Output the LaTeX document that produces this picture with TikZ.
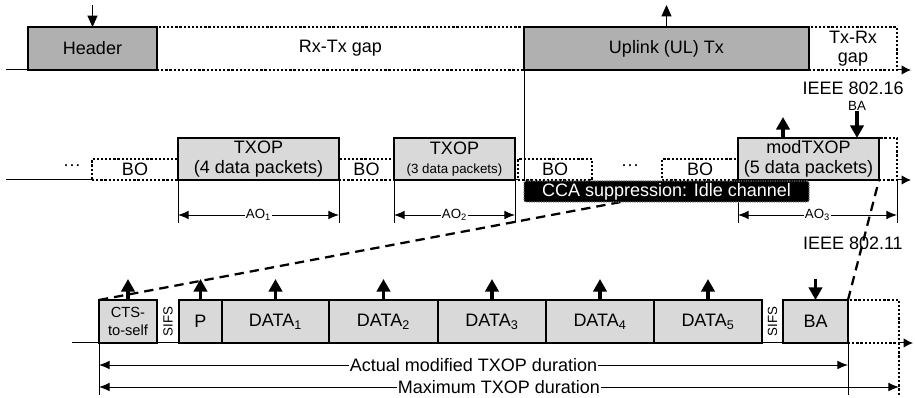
\documentclass[tikz,border=0pt]{standalone}
\usepackage{fontspec}
\setmainfont{Liberation Sans}
\usetikzlibrary{arrows.meta}
\newcommand\mainf{\fontsize{13.5}{14.5}\selectfont}
\newcommand\smallf{\fontsize{10}{12}\selectfont}
\newcommand\ctsf{\fontsize{11}{13.2}\selectfont}
\newcommand\bx[7]{\node[#1, minimum width={(#4-#3)*0.75pt}, minimum height={(#6-#5)*0.75pt}] (#2) at (#3,#6) {#7};}
\begin{document}
\begin{tikzpicture}[x=0.75pt,y=-0.75pt,
  box/.style={draw, line width=0.9pt, inner sep=0pt, outer sep=0pt, anchor=south west, align=center, font=\mainf},
  dark/.style={box, fill=black!31},
  light/.style={box, fill=black!15},
  gapb/.style={box, fill=white, dash pattern=on 1.7pt off 1.4pt, line width=1.9pt},
  dotline/.style={dash pattern=on 1.7pt off 1.4pt, line width=1.9pt},
  axis/.style={line width=0.75pt},
  axarrow/.style={line width=0.75pt, -{Latex[length=7pt,width=7pt]}},
  thinarrow/.style={line width=0.8pt, -{Triangle[length=8.5pt,width=7.5pt]}},
  thickarrow/.style={line width=2.4pt, -{Triangle[length=9.5pt,width=10pt]}},
  dim/.style={line width=0.7pt, {Latex[length=8pt,width=6.5pt]}-{Latex[length=8pt,width=6.5pt]}},
  dimlab/.style={fill=white, inner sep=1pt, font=\smallf},
  durlab/.style={fill=white, inner sep=1pt, font=\mainf},
  vline/.style={line width=0.7pt},
  dashline/.style={line width=1.7pt, dash pattern=on 7pt off 4.5pt},
  cca/.style={anchor=south west, inner sep=0pt, outer sep=0pt, fill=black, draw=black!55, dash pattern=on 0.8pt off 1pt, line width=0.8pt, rounded corners=1.5pt, text=white, font=\mainf}
]
\useasboundingbox (0,0) rectangle (915,398);

% ---------------- top row (IEEE 802.16)
\bx{gapb}{rxtx}{157}{524}{27}{70}{Rx-Tx gap}
\bx{gapb}{txrx}{809}{897}{27}{70}{Tx-Rx\\gap}
\bx{dark}{hdr}{28}{157}{27}{70}{Header}
\bx{dark}{ul}{524}{809}{27}{70}{Uplink (UL) Tx}
\coordinate (a0) at (6,70);
\coordinate (a1) at (911,70);
\draw[axis] (a0) -- (hdr.south west);
\draw[axarrow] (txrx.south east) -- (a1);
\coordinate (t1) at (92.5,5);
\coordinate (t2) at (666.5,5);
\draw[thinarrow] (t1) -- (hdr.north);
\draw[thinarrow] (ul.north) -- (t2);
\node[anchor=east, font=\mainf, inner sep=0pt] (ieee16) at (904,88) {IEEE 802.16};

% ---------------- middle row
\bx{gapb}{bo1}{92}{178}{159}{180}{BO}
\bx{gapb}{bo2}{339}{394}{159}{180}{BO}
\bx{gapb}{bo3}{518}{592}{159}{180}{BO}
\bx{gapb}{bo4}{662}{738}{159}{180}{BO}
\bx{gapb}{ext}{879}{897}{138}{180}{}
\bx{light}{tx1}{178}{339}{138}{180}{TXOP\\(4 data packets)}
\bx{light}{tx2}{394}{515}{138}{180}{TXOP\\{\smallf (3 data packets)}}
\bx{light}{mod}{738}{879}{138}{180}{modTXOP\\(5 data packets)}
\node[font=\mainf] (dots1) at (72,168) {···};
\node[font=\mainf] (dots2) at (630,168) {···};
\coordinate (m0) at (6,180);
\coordinate (m1) at (911,180);
\draw[axis] (m0) -- (bo1.south west);
\draw[axis] (tx2.south east) -- (bo3.south west);
\draw[axarrow] (ext.south east) -- (m1);

\coordinate (mu1) at (783,117);
\coordinate (mu0) at (783,138);
\draw[thickarrow] (mu0) -- (mu1);
\node[font=\smallf, inner sep=0pt] (balab) at (857,106) {BA};
\coordinate (ba0) at (857,138);
\draw[thickarrow] (balab.south) -- (ba0);

% AO dimension lines
\coordinate (v1) at (178,223); \coordinate (v2) at (339,223);
\coordinate (v3) at (394,223); \coordinate (v4) at (515,223);
\coordinate (v5) at (738,223); \coordinate (v6) at (897,223);
\draw[vline] (tx1.south west) -- (v1);
\draw[vline] (tx1.south east) -- (v2);
\draw[vline] (tx2.south west) -- (v3);
\draw[vline] (tx2.south east) -- (v4);
\draw[vline] (mod.south west) -- (v5);
\draw[vline] (ext.south east) -- (v6);
\coordinate (ao1a) at (178,215); \coordinate (ao1b) at (339,215);
\coordinate (ao2a) at (394,215); \coordinate (ao2b) at (515,215);
\coordinate (ao3a) at (738,215); \coordinate (ao3b) at (897,215);
\draw[dim] (ao1a) -- node[dimlab] {AO\textsubscript{1}} (ao1b);
\draw[dim] (ao2a) -- node[dimlab] {AO\textsubscript{2}} (ao2b);
\draw[dim] (ao3a) -- node[dimlab] {AO\textsubscript{3}} (ao3b);

\node[anchor=east, font=\mainf, inner sep=0pt] (ieee11) at (903,243) {IEEE 802.11};

% ---------------- bottom row
\coordinate (b0) at (72,343);
\coordinate (b1) at (913,343);
\draw[axis] (b0) -- (848,343) coordinate (b848);
\bx{gapb}{bext}{848}{899}{300}{343}{}
\bx{light, font=\ctsf}{cts}{99}{157}{300}{343}{CTS-\\to-self}
\node[rotate=90, font=\smallf, inner sep=0pt] (sifs1) at (168,321.5) {SIFS};
\bx{light}{p}{179}{222}{300}{343}{P}
\bx{light}{d1}{222}{329}{300}{343}{DATA\textsubscript{1}}
\bx{light}{d2}{329}{438}{300}{343}{DATA\textsubscript{2}}
\bx{light}{d3}{438}{546}{300}{343}{DATA\textsubscript{3}}
\bx{light}{d4}{546}{654}{300}{343}{DATA\textsubscript{4}}
\bx{light}{d5}{654}{762}{300}{343}{DATA\textsubscript{5}}
\node[rotate=90, font=\smallf, inner sep=0pt] (sifs2) at (772.5,321.5) {SIFS};
\bx{light}{ba}{783}{848}{300}{343}{BA}
\draw[axarrow] (bext.south east) -- (b1);

% dashed zoom lines
\draw[dashline] (cts.north west) -- (mod.south west);
\draw[dashline] (ba.north east) -- (mod.south east);

% CCA box hides part of the left dashed line
\node[cca, minimum width={285*0.75pt}, minimum height={21*0.75pt}] (cca) at (524,202) {CCA suppression: Idle channel};
\draw[vline] (ul.south west) -- (cca.north west);

\foreach \n in {cts,p,d1,d2,d3,d4,d5}{
  \draw[thickarrow] (\n.north) -- ([yshift=21*0.75pt]\n.north);
}
\draw[thickarrow] ([yshift=21*0.75pt]ba.north) -- (ba.north);

\coordinate (l1) at (99,395);
\coordinate (l2) at (848,395);
\coordinate (l3) at (899,395);
\draw[vline] (cts.south west) -- (l1);
\draw[vline] (ba.south east) -- (l2);
\draw[dotline] (bext.south east) -- (l3);

\coordinate (dA0) at (99,365); \coordinate (dA1) at (848,365);
\coordinate (dM0) at (99,387); \coordinate (dM1) at (899,387);
\draw[dim] (dA0) -- node[durlab] {Actual modified TXOP duration} (dA1);
\draw[dim] (dM0) -- node[durlab] {Maximum TXOP duration} (dM1);
\end{tikzpicture}
\end{document}
